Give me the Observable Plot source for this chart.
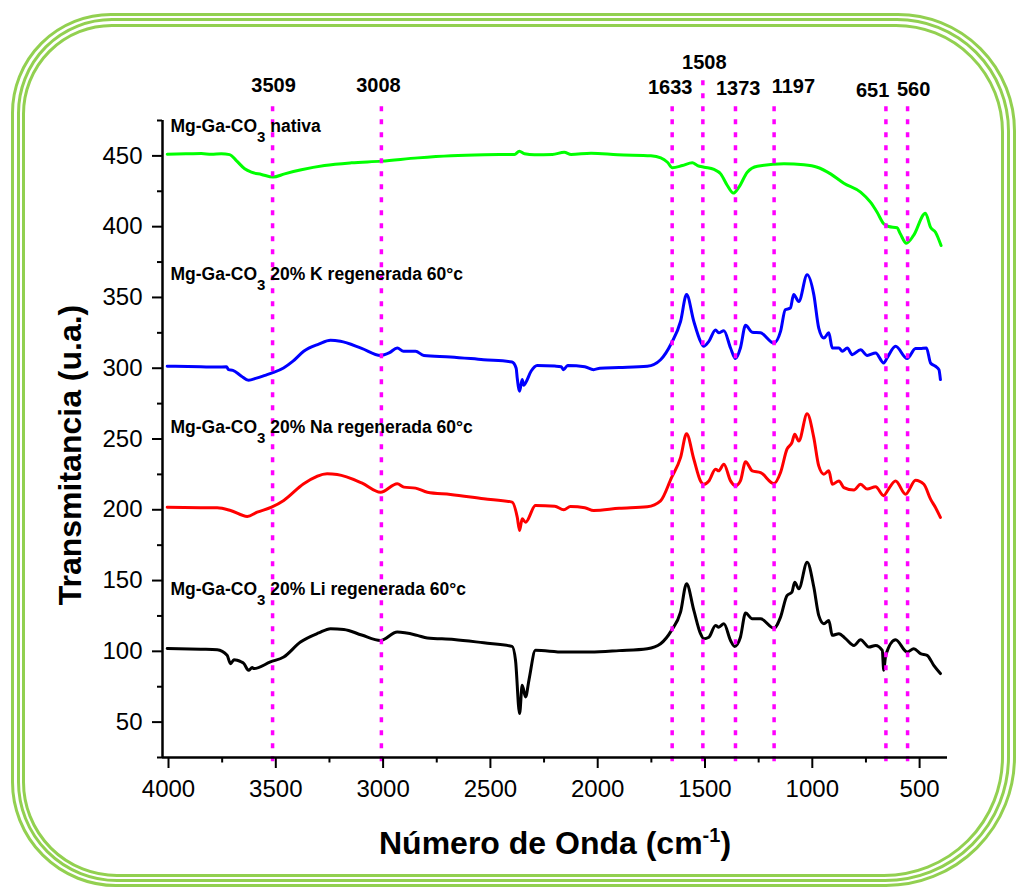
<!DOCTYPE html>
<html><head><meta charset="utf-8">
<script src="https://cdn.jsdelivr.net/npm/d3@7"></script>
<script src="https://cdn.jsdelivr.net/npm/@observablehq/plot@0.6"></script>
<style>
html,body{margin:0;padding:0;background:#fff;}
#wrap{position:relative;width:1016px;height:888px;overflow:hidden;font-family:"Liberation Sans",Arial,sans-serif;}
.band{position:absolute;box-sizing:border-box;border-style:solid;border-color:#92d050;}
#chart{position:absolute;left:0;top:0;}
</style></head><body>
<div id="wrap">
<div class="band" style="left:11px;top:12.5px;width:1005px;height:874.5px;border-width:3.5px;border-radius:100px 118px 130px 105px;"></div>
<div class="band" style="left:16.5px;top:18px;width:993px;height:863.5px;border-width:3.5px;border-radius:95px 113px 125px 100px;"></div>
<div class="band" style="left:22px;top:23.5px;width:982px;height:853px;border-width:3.5px;border-radius:90px 108px 120px 95px;"></div>
<div id="chart"></div>
</div>
<script>
// ---- data ----
const nativaWn = [4006,3900,3847,3800,3754,3715,3684,3645,3614,3567,3513,3459,3381,3273,3148,3008,2838,2683,2528,2388,2365,2341,2295,2211,2156,2124,2031,1907,1752,1706,1675,1652,1605,1559,1535,1504,1458,1427,1396,1368,1342,1303,1256,1132,1039,977,915,853,775,729,698,667,644,605,590,562,528,473,449,426,400];
const nativaT  = [451.2,451.5,451.6,451.2,451.5,450.9,446.7,440.9,438.5,436.9,435,437.3,440.2,443.2,445.1,446.3,448.6,450.1,450.8,451,453.3,451.5,450.8,451,452.6,451,451.9,450.8,450.1,448.6,445.5,441.6,443.2,445.1,443.2,442,440.4,437.3,429.1,423.7,427.9,438.5,442.7,444.4,443.7,442,437.3,430.7,424.4,417.3,410.2,402,400.1,399.2,395,388.3,393.8,409.5,399.6,396.1,386.7];

const kWn = [4006,3850,3773,3730,3720,3700,3660,3627,3590,3550,3517,3464,3420,3370,3300,3245,3199,3100,3012,2970,2934,2905,2849,2810,2686,2532,2399,2380,2375,2364,2352,2345,2336,2310,2282,2200,2170,2159,2140,2060,2019,1990,1900,1769,1707,1656,1614,1586,1552,1521,1506,1482,1451,1436,1412,1381,1358,1335,1311,1280,1241,1179,1148,1126,1102,1087,1063,1024,993,970,946,923,907,876,860,837,814,775,744,705,667,650,612,558,519,496,468,449,426,410,403];
const kT  = [301.4,301,300.8,301,299,298.5,294.4,291.5,293,295,296.7,300.2,305,312,317,319.7,319,314,309,311,314.3,312,312,309,308,306,304.4,300,293,283.8,292,288,289.7,298,302,301.5,301,299,302,301,299,300,300.5,301.4,306,317.8,333,352,333,319,315.5,319,327,325,326.5,314.3,306.8,314.3,330.3,325.4,325,317.8,326,341.3,342.5,352,347.2,366,352,328.4,321.3,325,314.3,314.3,312,314.3,309.6,313,309,310.8,303.7,307.7,315.5,306.8,313.9,314,314.3,303.7,301.4,299,292];

const naWn = [4006,3850,3773,3711,3633,3587,3520,3463,3370,3261,3214,3100,3012,2934,2903,2849,2794,2686,2531,2399,2375,2364,2352,2336,2290,2200,2158,2127,2060,2019,1900,1769,1707,1656,1614,1586,1552,1521,1506,1482,1451,1436,1412,1381,1358,1335,1311,1280,1241,1179,1148,1118,1095,1082,1063,1024,993,970,946,923,907,876,853,806,775,744,705,667,650,612,565,519,480,449,426,403];
const naT  = [201.8,201.5,201.4,199.5,195.3,198.3,201.8,206.6,218.4,225.4,224.9,219,212.4,218.4,216,215.3,212.4,210.8,207.8,205.4,194.8,185.4,193.6,191.2,203,202.5,200,202.3,201.5,199.5,201,202.1,206.3,222.7,236.8,253.7,235.7,220.4,218,220.4,228.7,227.5,232.2,220.4,216.9,220.4,234,227.5,226.3,218.5,226.3,242.8,247.4,253.3,248.6,267.8,251,231,225.1,227.5,218,220.4,215.7,213.9,218,214.6,216.2,209.9,213.4,220.4,211,220.9,218,207.5,201.6,194.6];

const liWn = [4006,3850,3773,3727,3711,3695,3680,3660,3649,3627,3610,3602,3525,3463,3385,3300,3245,3183,3100,3012,2934,2841,2794,2670,2531,2399,2383,2364,2352,2336,2320,2290,2158,2034,1900,1769,1707,1656,1614,1586,1552,1521,1506,1482,1451,1436,1412,1381,1362,1335,1311,1280,1241,1179,1148,1118,1095,1082,1063,1024,993,970,946,923,907,876,845,806,775,736,705,674,667,658,612,558,527,496,465,434,403];
const liT  = [102,101.5,101.2,97.2,91.3,94,93.7,92.5,91.4,86.6,88.5,87.8,92.5,96,106.6,113,116,115.5,111.5,107.7,113.6,111.3,109.4,108.4,106,103.5,93.7,56,76,67.8,80,100.7,99.5,99.5,100.5,101.9,105.4,114.8,127.7,147.7,128.9,112.5,108.9,110,118.3,117.1,119.5,107.7,103.5,110,127,123,123,116.4,124.2,139.4,141.8,148.8,144.2,163,145.4,125.4,119.5,121.8,111.3,112.5,109,104.2,108.2,103,104.2,100.7,86.6,97.2,108.2,99.5,101.9,98.4,97.2,90.1,84.3];

const seriesNames = ["Mg-Ga-CO3 nativa","Mg-Ga-CO3 20% K regenerada 60°c","Mg-Ga-CO3 20% Na regenerada 60°c","Mg-Ga-CO3 20% Li regenerada 60°c"];
const seriesColors = ["#00ff00","#0000ff","#ff0000","#000000"];
const seriesLabelY = [467.2, 362.5, 254.1, 139.9];

const peakLabels = ["3509","3008","1633","1508","1373","1197","651","560"];
const peakPositions = [3515,3008,1653,1510,1358,1178,657,556];

const xMajor = [4000,3500,3000,2500,2000,1500,1000,500];
const xMinor = [3750,3250,2750,2250,1750,1250,750];
const yMajor = [50,100,150,200,250,300,350,400,450];
const yMinor = [25,75,125,175,225,275,325,375,425,475];

// ---- layout / style ----
const xDomain = [4028, 370];
const yDomain = [25, 475];
const peakLabelDx = [1,-3,-2,1.4,2.7,19.3,-13.3,6];
const peakLabelTopPx = [85,85,86.7,62.3,87.7,86,90,89.3];
const ruleTop = [489,489,489,507,489,489,489,489];
const FONT = '"Liberation Sans", Arial, sans-serif';

const zip = (w, t) => w.map((x, i) => ({w: x, t: t[i]}));
const seriesData = [zip(nativaWn, nativaT), zip(kWn, kT), zip(naWn, naT), zip(liWn, liT)];

const marks = [];
seriesData.forEach((d, i) => {
  marks.push(Plot.line(d, {x: "w", y: "t", stroke: seriesColors[i], strokeWidth: 3, curve: "monotone-x"}));
});
marks.push(Plot.ruleX(peakPositions, {y1: 22, y2: (d, i) => ruleTop[i], stroke: "#ff00ff", strokeWidth: 3.5, strokeDasharray: "5,8"}));
marks.push(Plot.ruleX([xDomain[0]], {stroke: "#000", strokeWidth: 2.5}));
marks.push(Plot.ruleY([yDomain[0]], {stroke: "#000", strokeWidth: 2.5}));
marks.push(Plot.axisY({ticks: yMajor, tickSize: 10, tickPadding: 10, fontSize: 24, strokeWidth: 2, label: null, tickFormat: d => String(d)}));
marks.push(Plot.axisY({ticks: yMinor, tickSize: 5, tickFormat: () => "", strokeWidth: 2, label: null}));
marks.push(Plot.axisX({ticks: xMajor, tickSize: 11, tickPadding: 11, fontSize: 24, strokeWidth: 2, label: null, tickFormat: d => String(d)}));
marks.push(Plot.axisX({ticks: xMinor, tickSize: 5.5, tickFormat: () => "", strokeWidth: 2, label: null}));
peakLabels.forEach((lab, i) => {
  marks.push(Plot.text([lab], {x: [peakPositions[i]], frameAnchor: "top", dx: peakLabelDx[i], dy: peakLabelTopPx[i] - 120, textAnchor: "middle", lineAnchor: "middle", fontSize: 20, fontWeight: "bold", fill: "#000"}));
});
marks.push(Plot.text(seriesNames, {y: seriesLabelY, frameAnchor: "left", dx: 8, textAnchor: "start", lineAnchor: "bottom", fontSize: 17.5, fontWeight: "bold", fill: "#000"}));
marks.push(Plot.text(["Transmitancia (u.a.)"], {frameAnchor: "left", rotate: -90, dx: -92, dy: 16, textAnchor: "middle", lineAnchor: "middle", fontSize: 32, fontWeight: "bold", fill: "#000"}));
marks.push(Plot.text(["Número de Onda (cm-1)"], {frameAnchor: "bottom", dy: 86, textAnchor: "middle", lineAnchor: "middle", fontSize: 32, fontWeight: "bold", fill: "#000"}));

const svg = Plot.plot({
  width: 1016, height: 888,
  marginLeft: 162, marginRight: 69, marginTop: 120, marginBottom: 131,
  style: {fontFamily: FONT, color: "#000", background: "transparent", overflow: "visible"},
  x: {domain: xDomain},
  y: {domain: yDomain},
  marks
});

// rich-text touches: subscript 3, superscript -1
const NS = "http://www.w3.org/2000/svg";
svg.querySelectorAll("text").forEach(t => {
  const s = t.textContent;
  if (s.startsWith("Mg-Ga-CO3")) {
    const rest = s.slice(9);
    t.textContent = "Mg-Ga-CO";
    const sub = document.createElementNS(NS, "tspan");
    sub.setAttribute("dy", "10"); sub.setAttribute("font-size", "15"); sub.textContent = "3";
    const r = document.createElementNS(NS, "tspan");
    r.setAttribute("dy", "-10"); r.textContent = rest;
    t.append(sub, r);
  } else if (s === "Número de Onda (cm-1)") {
    t.textContent = "Número de Onda (cm";
    const sup = document.createElementNS(NS, "tspan");
    sup.setAttribute("dy", "-12"); sup.setAttribute("font-size", "20"); sup.textContent = "-1";
    const r = document.createElementNS(NS, "tspan");
    r.setAttribute("dy", "12"); r.textContent = ")";
    t.append(sup, r);
  }
});
document.getElementById("chart").append(svg);
</script>
</body></html>
